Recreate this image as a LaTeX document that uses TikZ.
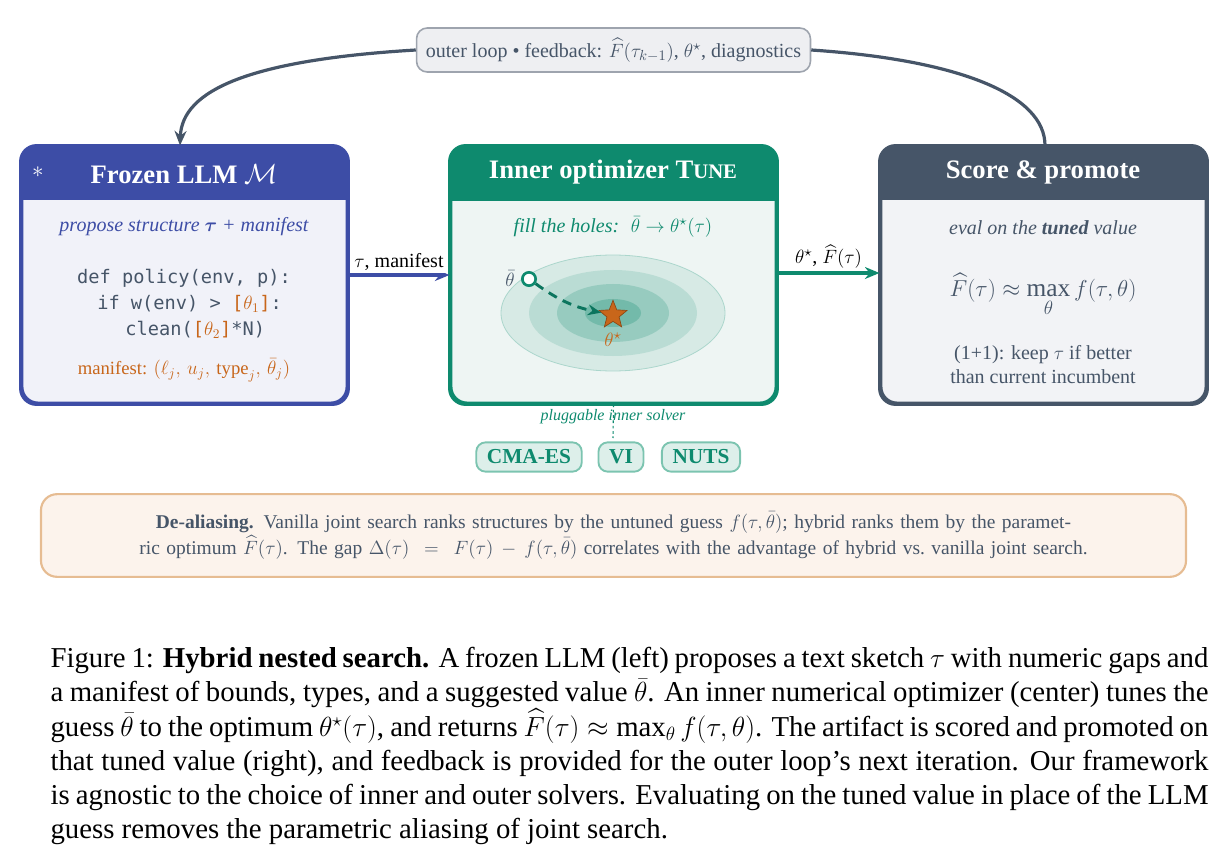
\documentclass[tikz,border=0pt]{standalone}
\usepackage{amsmath, amssymb}
\usepackage{fontspec}
\setmainfont{Liberation Serif}
\setmonofont{DejaVu Sans Mono}
\usetikzlibrary{arrows.meta, shapes.geometric, positioning}
\definecolor{llmBlue}{HTML}{3D4DA6}
\definecolor{llmBody}{HTML}{F1F2F9}
\definecolor{tuneGreen}{HTML}{0E8A6E}
\definecolor{tuneBody}{HTML}{EEF5F3}
\definecolor{scoreSlate}{HTML}{465568}
\definecolor{scoreBody}{HTML}{F2F3F6}
\definecolor{holeOrange}{HTML}{C8661A}
\definecolor{noteFill}{HTML}{EEEFF2}
\definecolor{noteLine}{HTML}{9EA4AE}
\definecolor{dealFill}{HTML}{FCF3EC}
\definecolor{dealLine}{HTML}{E6BC92}
\definecolor{chipFill}{HTML}{DDEFEA}
\definecolor{chipLine}{HTML}{7CC4B0}
\tikzset{every picture/.style={line width=0.75pt}}
\tikzset{
  stage/.style={draw=#1, line width=2.2pt, rounded corners=12, minimum width=243.75pt, minimum height=192pt, inner sep=0pt},
  head/.style={font=\fontsize{20}{24}\selectfont\bfseries, text=white},
  flow/.style={line width=2.4pt, -{Stealth[length=11pt, width=9pt]}},
  chip/.style={draw=chipLine, fill=chipFill, line width=1.4pt, rounded corners=7, font=\fontsize{16}{19}\selectfont\bfseries, text=tuneGreen, inner xsep=8pt, minimum height=22pt},
  body/.style={font=\fontsize{15}{18}\selectfont}
}

\begin{document}
\begin{tikzpicture}[x=0.75pt,y=0.75pt,yscale=-1,xscale=1]
\useasboundingbox (0,0) rectangle (1228,859);

% stages
\node [stage=llmBlue, fill=llmBody] (llm) at (184.5,275) {};
\node [stage=tuneGreen, fill=tuneBody] (tune) at (613.5,275) {};
\node [stage=scoreSlate, fill=scoreBody] (score) at (1043.5,275) {};

% headers
\begin{scope}
\clip (llm.north west) rectangle (347,200);
\fill [llmBlue, rounded corners=12] (llm.north west) rectangle (llm.south east);
\end{scope}
\begin{scope}
\clip (tune.north west) rectangle (776,201);
\fill [tuneGreen, rounded corners=12] (tune.north west) rectangle (tune.south east);
\end{scope}
\begin{scope}
\clip (score.north west) rectangle (1206,200);
\fill [scoreSlate, rounded corners=12] (score.north west) rectangle (score.south east);
\end{scope}
\draw [llmBlue, line width=2.2pt, rounded corners=12] (llm.north west) rectangle (llm.south east);
\draw [tuneGreen, line width=2.2pt, rounded corners=12] (tune.north west) rectangle (tune.south east);
\draw [scoreSlate, line width=2.2pt, rounded corners=12] (score.north west) rectangle (score.south east);

\node [head] (llmHead) at (184,174) {Frozen LLM $\mathcal{M}$};
\node [text=white, font=\fontsize{18}{20}\selectfont] (llmIcon) at (38,172) {$\ast$};
\node [head] (tuneHead) at (613,172) {Inner optimizer T{\fontsize{15.5}{18}\selectfont UNE}};
\node [head] (scoreHead) at (1043,172) {Score \& promote};

% left body
\node [body, text=llmBlue] (propose) at (184,227) {\itshape propose structure $\boldsymbol{\tau}$ + manifest};
\node [font=\fontsize{14}{19.5}\selectfont\ttfamily, text=scoreSlate, align=center] (code) at (184,304)
  {def policy(env, p):\\
   \phantom{x}if w(env) > \textcolor{holeOrange}{[$\theta_1$]}:\\
   \phantom{xx}clean(\textcolor{holeOrange}{[$\theta_2$]}*N)};
\node [font=\fontsize{14}{17}\selectfont, text=holeOrange] (manifest) at (184,370) {manifest: $(\ell_j,\,u_j,\,\mathrm{type}_j,\,\bar\theta_j)$};

% middle body
\node [body, text=tuneGreen] (holes) at (613,227) {\itshape fill the holes: \ $\bar\theta \rightarrow \theta^{\star}(\tau)$};
\foreach \rx/\ry/\op in {112/58/0.10, 84/43/0.14, 56/29/0.20, 28/14/0.26}
  \fill [tuneGreen, opacity=\op] (613,313) ellipse ({\rx*0.75pt} and {\ry*0.75pt});
\draw [tuneGreen!35, line width=0.6pt] (613,313) ellipse (84pt and 43.5pt);
\node [circle, draw=tuneGreen, fill=white, line width=2pt, minimum size=10pt, inner sep=0pt] (guess) at (529,279) {};
\node [left=1pt of guess, body, text=scoreSlate] (guessLbl) {$\bar\theta$};
\node [star, star points=5, star point ratio=2.3, fill=holeOrange, draw=holeOrange!70!black, line width=0.5pt, minimum size=22pt, inner sep=0pt] (opt) at (613,315) {};
\node [text=holeOrange, body] (optLbl) at (613,340) {$\theta^{\star}$};
\draw [tuneGreen!85!black, line width=2.2pt, dash pattern=on 7pt off 5pt, -{Stealth[length=10pt, width=8pt]}] (guess) to[bend left=12] (opt);

% right body
\node [body, text=scoreSlate] (evalLbl) at (1043,228) {\itshape eval on the \textbf{tuned} value};
\node [font=\fontsize{19}{22}\selectfont, text=scoreSlate] (formula) at (1043,295) {$\widehat{F}(\tau) \approx \max\limits_{\theta} f(\tau,\theta)$};
\node [body, text=scoreSlate, align=center] (keep) at (1043,365) {(1+1): keep $\tau$ if better\\than current incumbent};

% connectors
\draw [flow, llmBlue] (llm.east |- 0,275) -- node [above, fill=white, inner sep=2pt, body, text=black] (tauLbl) {$\tau$, manifest} (tune.west |- 0,275);
\draw [flow, tuneGreen] (tune.east |- 0,273) -- node [above, fill=white, inner sep=2pt, body, text=black] (thetaLbl) {$\theta^{\star}$,\ $\widehat{F}(\tau)$} (score.west |- 0,273);

% outer loop
\node [draw=noteLine, fill=noteFill, rounded corners=8, line width=1.2pt, body, text=scoreSlate, minimum height=33pt, inner xsep=7pt] (loop) at (613.5,50) {outer loop \textbullet{} feedback: $\widehat{F}(\tau_{k-1})$,\ $\theta^{\star}$, diagnostics};
\draw [scoreSlate, line width=2.4pt, -{Stealth[length=11pt, width=9pt]}] (loop.west) .. controls (250,60) and (182,90) .. ([xshift=-1.5pt]llm.north -| 182,0);
\draw [scoreSlate, line width=2.4pt] (loop.east) .. controls (960,60) and (1045,95) .. (score.north -| 1045,0);

% solvers
\coordinate (plugEnd) at (613,438);
\draw [tuneGreen, dash pattern=on 2pt off 2pt, line width=0.8pt] (tune.south) -- (plugEnd);
\node [body, text=tuneGreen, font=\fontsize{12}{14}\selectfont\itshape] (plug) at (613,417) {pluggable inner solver};
\node [chip] (cma) at (529,457) {CMA-ES};
\node [chip] (vi) at (621,457) {VI};
\node [chip] (nuts) at (701,457) {NUTS};

% de-aliasing note
\node [draw=dealLine, fill=dealFill, rounded corners=12, line width=1.6pt, minimum width=858.75pt, minimum height=62pt, text width=815pt, align=center, font=\fontsize{14.6}{19.5}\selectfont, text=scoreSlate] (deal) at (613.5,535.5)
  {\hyphenpenalty=10000 \textbf{De-aliasing.} Vanilla joint search ranks structures by the untuned guess $f(\tau,\bar\theta)$; hybrid ranks them by the parametric optimum $\widehat{F}(\tau)$. The gap $\Delta(\tau) = F(\tau) - f(\tau,\bar\theta)$ correlates with the advantage of hybrid vs.\ vanilla joint search.};

% caption
\node [anchor=north west, text width=868.5pt, align=justify, inner sep=0pt, font=\fontsize{21.6}{25.6}\selectfont] (caption) at (50,647)
  {Figure 1: \textbf{Hybrid nested search.} A frozen LLM (left) proposes a text sketch $\tau$ with numeric gaps and a manifest of bounds, types, and a suggested value $\bar\theta$. An inner numerical optimizer (center) tunes the guess $\bar\theta$ to the optimum $\theta^{\star}(\tau)$, and returns $\widehat{F}(\tau) \approx \max_{\theta} f(\tau,\theta)$. The artifact is scored and promoted on that tuned value (right), and feedback is provided for the outer loop's next iteration. Our framework is agnostic to the choice of inner and outer solvers. Evaluating on the tuned value in place of the LLM guess removes the parametric aliasing of joint search.};

\end{tikzpicture}
\end{document}
